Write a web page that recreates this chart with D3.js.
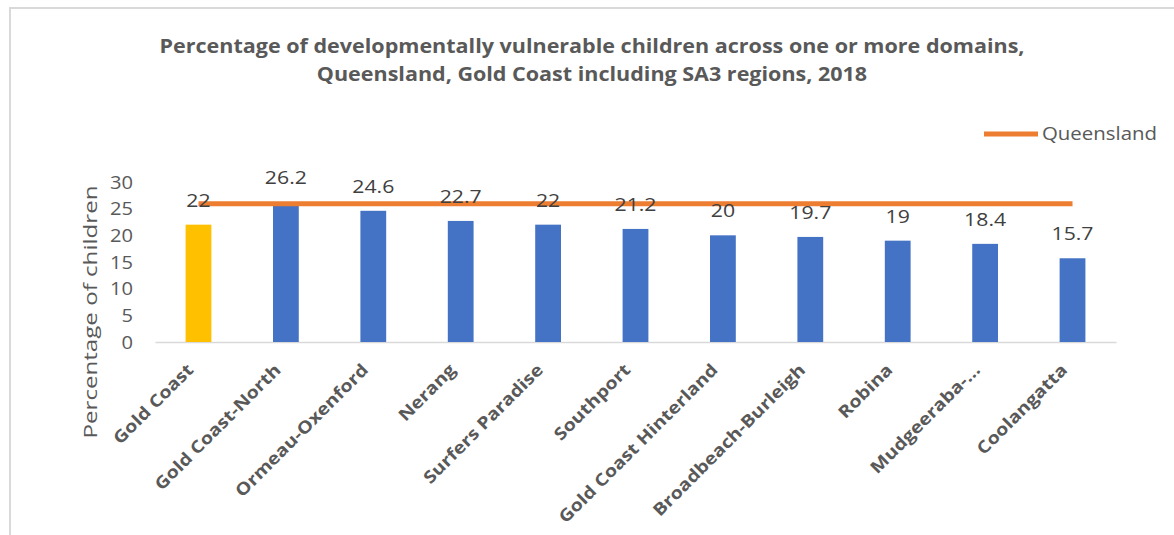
<!DOCTYPE html>
<html><head><meta charset="utf-8">
<script src="https://cdn.jsdelivr.net/npm/d3@7"></script>
<style>body{margin:0;background:#fff}svg{display:block}</style>
</head><body>
<svg id="c" width="1174" height="535"></svg>
<script>
const categories = ["Gold Coast","Gold Coast-North","Ormeau-Oxenford","Nerang","Surfers Paradise","Southport","Gold Coast Hinterland","Broadbeach-Burleigh","Robina","Mudgeeraba-...","Coolangatta"];
const values = [22, 26.2, 24.6, 22.7, 22, 21.2, 20, 19.7, 19, 18.4, 15.7];
const queensland = [25.9,25.9,25.9,25.9,25.9,25.9,25.9,25.9,25.9,25.9,25.9];
const yTicks = [0,5,10,15,20,25,30];
const titleLines = ["Percentage of developmentally vulnerable children across one or more domains,","Queensland, Gold Coast including SA3 regions, 2018"];
const yTitle = "Percentage of children";
const legendLabel = "Queensland";

const FONT = "'Open Sans', sans-serif";
const svg = d3.select("#c");

function natWidth(text, size, weight){
  const t = svg.append("text").attr("font-family",FONT).attr("font-weight",weight).attr("font-size",size).text(text);
  const w = t.node().getComputedTextLength();
  t.remove();
  return w;
}
// returns function giving compressed length for any string so that sample matches target
function squeezer(sample, target, size, weight){
  const r = target / natWidth(sample, size, weight);
  return s => natWidth(s, size, weight) * r;
}
function styleText(sel, size, weight, fill, sq){
  sel.attr("font-family",FONT).attr("font-size",size).attr("font-weight",weight).attr("fill",fill)
     .attr("lengthAdjust","spacingAndGlyphs").attr("textLength", function(){ return sq(this.textContent); });
}

// frame
svg.append("path").attr("d","M10,535 L10,8 L1174,8").attr("fill","none").attr("stroke","#d9d9d9").attr("stroke-width",2);

const x = d3.scaleBand().domain(categories).range([155,1116]).paddingInner(0.705).paddingOuter(0.35);
const y = d3.scaleLinear().domain([0,30]).range([342,182]);

// title
const tS = 20, tSq = squeezer(titleLines[0], 865, tS, "bold");
svg.append("g").selectAll("text").data(titleLines).join("text")
  .attr("x",592).attr("y",(d,i)=>53+i*28).attr("text-anchor","middle").text(d=>d)
  .call(styleText, tS, "bold", "#595959", tSq);

// y tick labels
const tkS = 18, tkSq = squeezer("30", 23, tkS, "normal");
const yAxis = d3.axisLeft(y).tickValues(yTicks).tickSize(0).tickPadding(0);
const yg = svg.append("g").attr("transform","translate(133,0)").call(yAxis);
yg.select(".domain").remove();
yg.selectAll("text").attr("dy","0.35em").call(styleText, tkS, "normal", "#595959", tkSq);

// y title
const ytS = 19, ytSq = squeezer(yTitle, 253, ytS, "normal");
svg.append("text").attr("transform","translate(97,312) rotate(-90)").attr("text-anchor","middle").text(yTitle)
  .call(styleText, ytS, "normal", "#595959", ytSq);

// baseline axis
const xAxis = d3.axisBottom(x).tickSize(0).tickFormat("");
const xg = svg.append("g").attr("transform","translate(0,342)").call(xAxis);
xg.select(".domain").attr("stroke","#d9d9d9").attr("stroke-width",1.5);

// bars
svg.append("g").selectAll("rect").data(values).join("rect")
  .attr("x",(d,i)=>x(categories[i])).attr("width",x.bandwidth())
  .attr("y",d=>y(d)).attr("height",d=>y(0)-y(d))
  .attr("fill",(d,i)=>i===0?"#FFC000":"#4472C4");

// Queensland line
const line = d3.line().x((d,i)=>x(categories[i])+x.bandwidth()/2).y(d=>y(d));
svg.append("path").datum(queensland).attr("d",line).attr("fill","none").attr("stroke","#ED7D31").attr("stroke-width",5);

// data labels
const dlS = 17.5, dlSq = squeezer("26.2", 42, dlS, "normal");
svg.append("g").selectAll("text").data(values).join("text")
  .attr("x",(d,i)=>x(categories[i])+x.bandwidth()/2).attr("y",d=>y(d)-18)
  .attr("text-anchor","middle").text(d=>d)
  .call(styleText, dlS, "normal", "#404040", dlSq);

// category labels
const cS = 17, cSq = squeezer("Gold Coast", 105, cS, "bold");
svg.append("g").selectAll("text").data(categories).join("text")
  .attr("transform",d=>`translate(${x(d)+x.bandwidth()/2-4},371) rotate(-45)`)
  .attr("text-anchor","end").text(d=>d)
  .call(styleText, cS, "bold", "#595959", cSq);

// legend
svg.append("line").attr("x1",984).attr("x2",1038).attr("y1",134).attr("y2",134).attr("stroke","#ED7D31").attr("stroke-width",5);
const lgS = 18, lgSq = squeezer(legendLabel, 115, lgS, "normal");
svg.append("text").attr("x",1042).attr("y",134).attr("dy","0.35em").text(legendLabel)
  .call(styleText, lgS, "normal", "#595959", lgSq);
</script>
</body></html>
